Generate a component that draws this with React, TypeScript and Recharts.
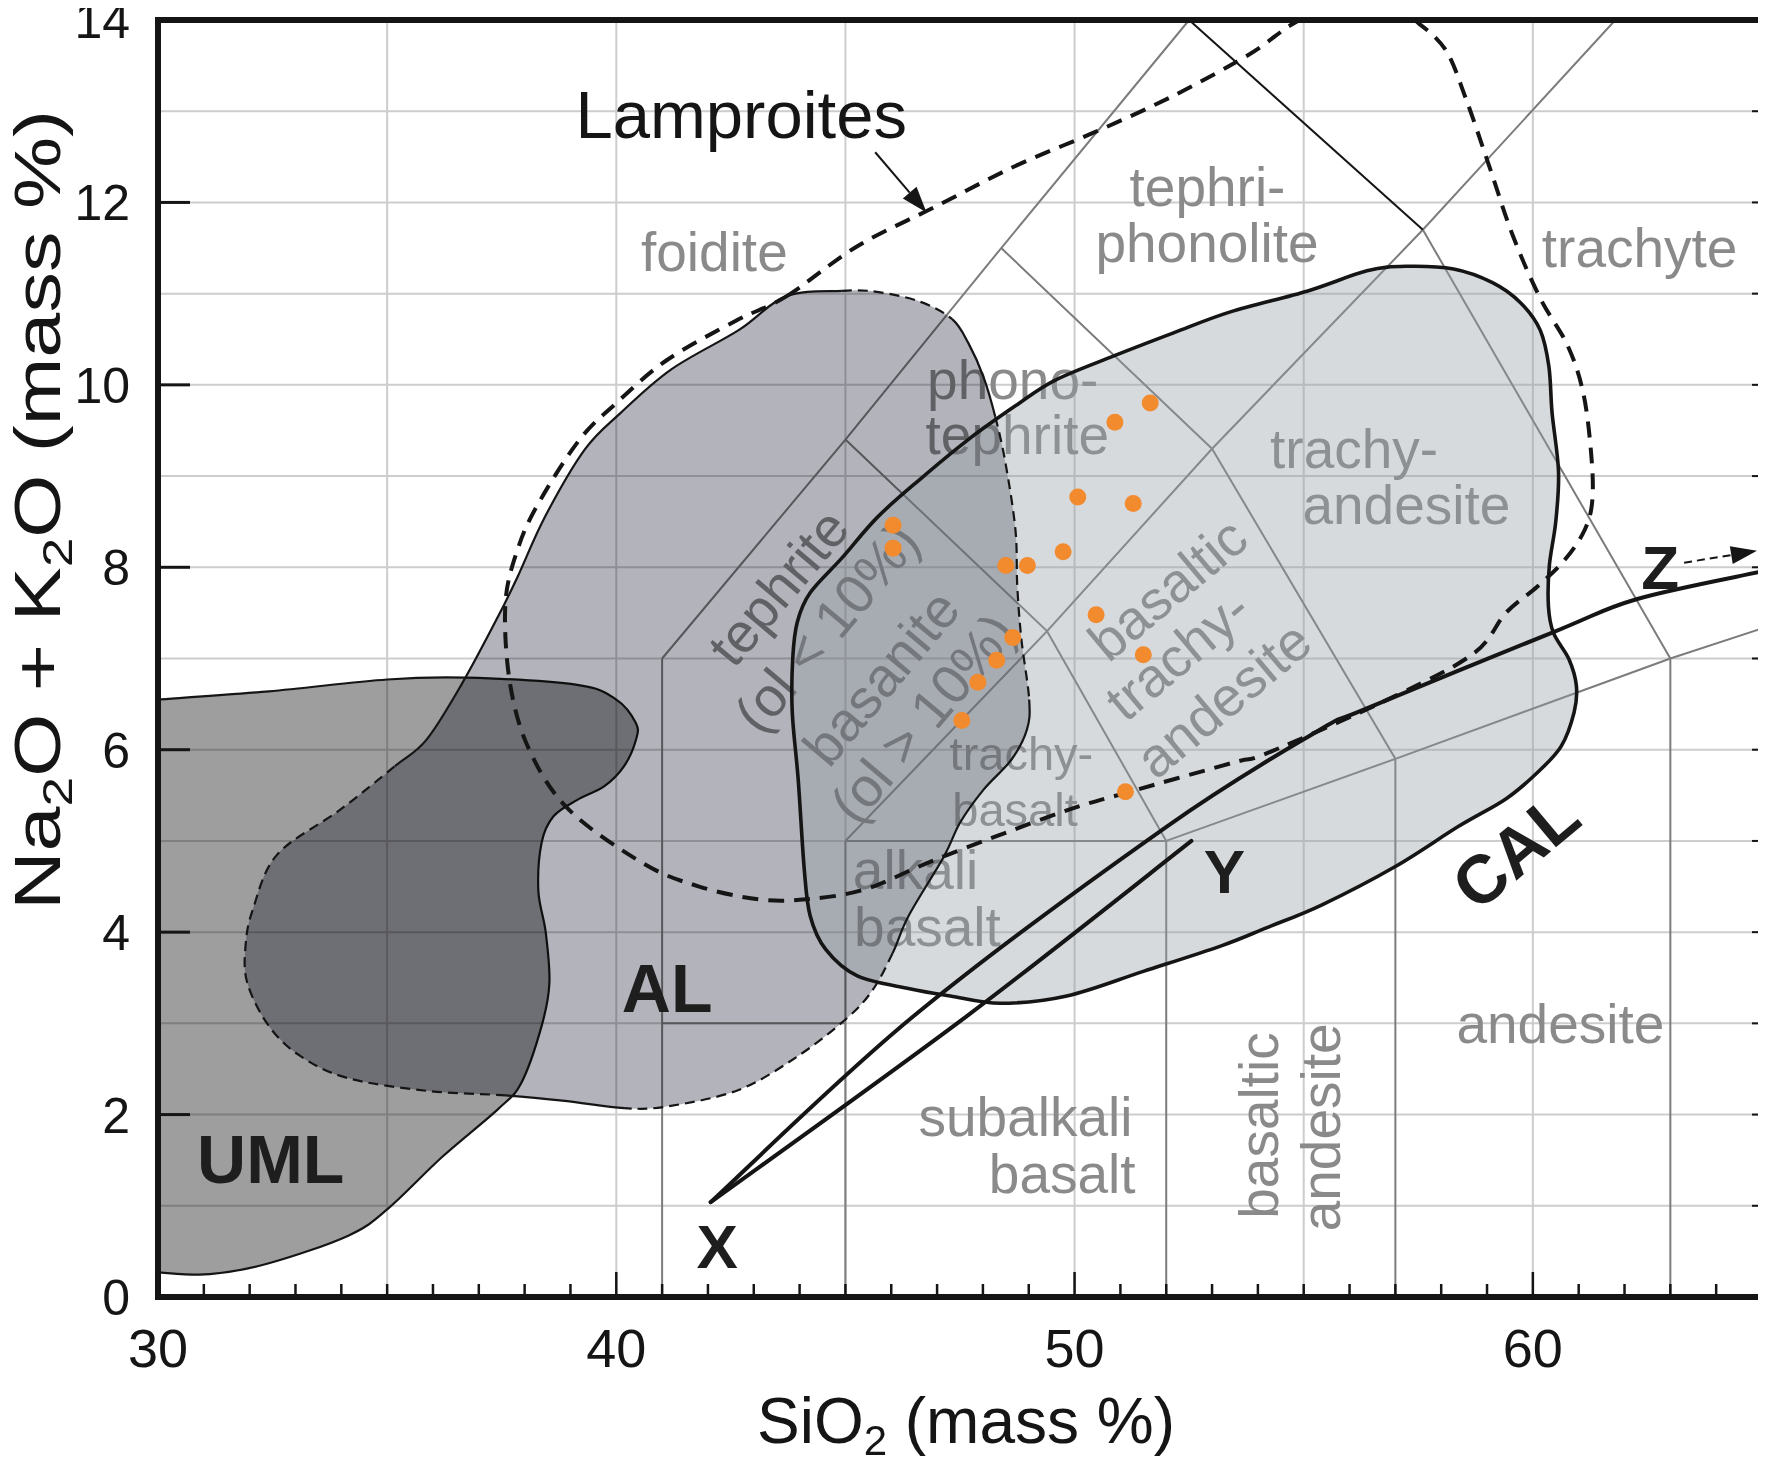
import React from "react";
import { ScatterChart, Scatter, XAxis, YAxis } from "recharts";

type XY = [number, number];
type Pt = { x: number; y: number };

// chart box (the page adds an 8px body margin)
const W = 1758;
const H = 1453;
const PLOT_W = 1604;
const PLOT_H = 1277;
const Y_AXIS_W = W - PLOT_W - 4;
const X_AXIS_H = H - PLOT_H - 12;

const FONT = "'Liberation Sans', Arial, Helvetica, sans-serif";
const INK = "#151515";
const FIELD_GREY = "#8a8a8a";
const GRID = "#cdcdcd";
const TAS_GREY = "#7c7c7c";
const UML_FILL = "#9e9e9e";
const AL_FILL = "#b2b3bb";
const CAL_FILL = "rgb(150,157,163)";
const CAL_ALPHA = 0.38;
const DOT = "#f28a2e";
const MULT: React.CSSProperties = { mixBlendMode: "multiply" };

// ---- axes ----
const X_TICKS = Array.from({ length: 36 }, (_, i) => 30 + i);
const Y_TICKS = Array.from({ length: 15 }, (_, i) => i);
const GRID_Y = [1, 2, 3, 4, 5, 6, 7, 8, 9, 10, 11, 12, 13];
const GRID_X = [35, 40, 45, 50, 55, 60];

// ---- TAS field boundaries (SiO2, Na2O+K2O) ----
const TAS_LINES: XY[][] = [
  [[41, 0], [41, 7], [45, 9.4], [48.4, 11.5], [52.5, 14]],
  [[41, 3], [45, 3]],
  [[45, 0], [45, 5], [49.4, 7.3], [53, 9.3], [57.6, 11.7], [61.8, 14]],
  [[45, 5], [52, 5]],
  [[45, 9.4], [49.4, 7.3], [52, 5]],
  [[48.4, 11.5], [53, 9.3], [57, 5.9]],
  [[57.6, 11.7], [63, 7]],
  [[52, 0], [52, 5], [57, 5.9], [63, 7], [65, 7.33]],
  [[57, 0], [57, 5.9]],
  [[63, 0], [63, 7]],
];
const TAS_DARK: XY[][] = [[[52.5, 14], [57.6, 11.7]]];

// ---- fields ----
const UML: XY[] = [
  [30, 6.55], [32.42, 6.64], [35.0, 6.77], [36.73, 6.79], [39.15, 6.71], [40.0, 6.55],
  [40.43, 6.29], [40.43, 6.11], [40.17, 5.82], [39.74, 5.6], [39.15, 5.45], [38.63, 5.27],
  [38.37, 4.98], [38.3, 4.45], [38.46, 4.0], [38.54, 3.44], [38.37, 2.97], [37.93, 2.35],
  [37.42, 2.06], [36.21, 1.54], [35.0, 0.96], [34.14, 0.67], [32.42, 0.37], [31.13, 0.25],
  [30, 0.27],
];

const AL: XY[] = [
  [43.7, 10.97], [44.92, 11.03], [45.69, 11.02], [46.64, 10.91], [47.33, 10.72], [47.68, 10.46],
  [48.01, 10.09], [48.27, 9.65], [48.49, 9.15], [48.71, 8.41], [48.75, 7.79], [48.84, 7.21],
  [49.01, 6.55], [48.96, 6.22], [48.62, 5.89], [48.01, 5.56], [47.5, 5.2], [47.15, 4.83],
  [46.38, 4.18], [46.03, 3.77], [45.6, 3.37], [45.04, 3.06], [43.96, 2.64], [42.67, 2.27],
  [41.12, 2.09], [40.17, 2.07], [38.88, 2.15], [37.59, 2.21], [35.87, 2.26], [34.14, 2.4],
  [33.11, 2.64], [32.42, 2.97], [31.95, 3.44], [31.91, 3.85], [32.07, 4.25], [32.6, 4.85],
  [33.97, 5.34], [35.17, 5.82], [35.86, 6.11], [36.64, 6.73], [37.42, 7.46], [37.85, 7.9],
  [38.45, 8.56], [39.31, 9.29], [40.09, 9.69], [41.2, 10.17], [42.67, 10.6],
];
// outline segments of AL drawn dashed: [from, to) by segment index
const AL_DASHED: XY[] = [[1, 4], [7, 12], [19, 25], [27, 37]];

const CAL: XY[] = [
  [44.1, 4.7], [43.97, 5.67], [43.84, 6.41], [43.85, 7.0], [43.95, 7.4], [44.23, 7.72],
  [44.92, 8.1], [45.7, 8.55], [46.64, 8.97], [47.68, 9.4], [48.71, 9.77], [49.57, 10.05],
  [50.87, 10.32], [52.16, 10.57], [53.4, 10.8], [55.09, 11.03], [56.38, 11.25], [57.24, 11.3],
  [58.27, 11.27], [59.12, 11.12], [59.73, 10.9], [60.16, 10.6], [60.35, 10.2], [60.42, 9.69],
  [60.56, 9.05], [60.5, 8.5], [60.36, 8.02], [60.34, 7.57], [60.45, 7.28], [60.79, 6.99],
  [60.95, 6.7], [60.9, 6.41], [60.62, 6.04], [60.1, 5.75], [59.41, 5.46], [58.38, 5.16],
  [57.0, 4.72], [55.4, 4.3], [54.2, 4.05], [53.2, 3.85], [51.5, 3.57], [49.83, 3.3],
  [48.38, 3.22], [47.29, 3.3], [46.4, 3.38], [45.26, 3.52], [44.57, 3.81], [44.23, 4.18],
];

const LAMPROITES: XY[] = [
  [43.71, 10.97], [45.26, 11.52], [46.99, 11.96], [48.71, 12.4], [50.44, 12.77], [52.16, 13.17],
  [53.8, 13.62], [54.74, 13.95], [55.2, 14.0], [57.24, 14.0], [57.49, 13.97], [58.1, 13.67],
  [58.53, 13.15], [59.04, 12.41], [59.56, 11.64], [60.16, 10.95], [60.76, 10.43], [61.1, 9.91],
  [61.27, 9.26], [61.3, 8.75], [61.14, 8.42], [60.71, 8.09], [60.1, 7.79], [59.41, 7.5],
  [58.72, 7.06], [57.0, 6.59], [54.24, 5.97], [53.47, 5.86], [51.14, 5.53], [49.69, 5.31],
  [46.99, 4.8], [45.43, 4.47], [44.14, 4.36], [43.1, 4.36], [41.81, 4.5], [40.6, 4.75],
  [38.97, 5.34], [38.1, 6.0], [37.68, 6.73], [37.58, 7.6], [37.85, 8.2], [38.3, 8.7],
  [39.2, 9.4], [40.0, 9.8], [41.1, 10.27], [42.6, 10.7],
];

const LINE_XZ: XY[] = [[42.06, 1.04], [46.49, 3.08], [52.02, 5.16], [55.29, 6.2], [56.31, 6.44], [60.45, 7.29], [62.26, 7.65], [64.96, 7.95]];
const LINE_XY: XY[] = [[42.06, 1.04], [47.65, 3.08], [52.55, 5.0]];

const SAMPLES: XY[] = [
  [51.65, 9.8], [50.88, 9.59], [50.07, 8.77], [51.28, 8.7], [46.04, 8.46], [46.04, 8.21],
  [49.75, 8.17], [48.5, 8.02], [48.97, 8.02], [50.47, 7.48], [51.5, 7.04], [48.65, 7.23],
  [48.3, 6.98], [47.89, 6.74], [47.54, 6.32], [51.11, 5.54],
];

const LAMP_ARROW: XY[] = [[45.65, 12.55], [46.77, 11.89]];
const Z_ARROW: XY[] = [[63.3, 8.05], [64.89, 8.18]];
const FRAME: XY[] = [[30, 0], [30, 14], [65, 14], [65, 0]];

// ---- labels (x = centre, y = baseline unless rotated) ----
const FIELD_LABELS = [
  { t: "foidite", x: 42.14, y: 11.25 },
  { t: "tephri-", x: 52.9, y: 11.96 },
  { t: "phonolite", x: 52.89, y: 11.35 },
  { t: "trachyte", x: 62.33, y: 11.29 },
  { t: "phono-", x: 48.65, y: 9.84 },
  { t: "tephrite", x: 48.75, y: 9.24 },
  { t: "trachy-", x: 56.1, y: 9.09 },
  { t: "andesite", x: 57.24, y: 8.48 },
  { t: "alkali", x: 46.53, y: 4.47 },
  { t: "basalt", x: 46.79, y: 3.85 },
  { t: "subalkali", x: 48.93, y: 1.76 },
  { t: "basalt", x: 49.73, y: 1.14 },
  { t: "andesite", x: 60.6, y: 2.79 },
];
const TB_LABELS = [
  { t: "trachy-", x: 48.84, y: 5.78 },
  { t: "basalt", x: 48.7, y: 5.16 },
];
const OL_LABELS = [
  { t: "tephrite", x: 43.54, y: 7.78 },
  { t: "(ol < 10%)", x: 44.59, y: 7.34 },
  { t: "basanite", x: 45.78, y: 6.79 },
  { t: "(ol > 10%)", x: 46.69, y: 6.35 },
];
const BTA_LABELS = [
  { t: "basaltic", x: 52.03, y: 7.76 },
  { t: "trachy-", x: 52.25, y: 7.04 },
  { t: "andesite", x: 53.25, y: 6.55 },
];
const BA_LABELS = [
  { t: "basaltic", x: 54.03, y: 1.88 },
  { t: "andesite", x: 55.38, y: 1.86 },
];
const GROUP_TAGS = [
  { t: "UML", x: 32.46, y: 1.25 },
  { t: "AL", x: 41.11, y: 3.12 },
];
const POINT_TAGS = [
  { t: "X", x: 42.2, y: 0.32 },
  { t: "Y", x: 53.27, y: 4.43 },
  { t: "Z", x: 62.78, y: 7.76 },
];
const CAL_TAG = [{ t: "CAL", x: 59.62, y: 4.9 }];
const LAMP_TAG = [{ t: "Lamproites", x: 39.11, y: 12.71 }];

// ---- helpers ----
const toPts = (a: XY[]) => a.map(([x, y]) => ({ x, y }));
const toPairs = (lines: XY[][]) =>
  toPts(lines.flatMap((l) => l.slice(1).flatMap((b, i) => [l[i], b] as XY[])));
const GRID_SEGS: XY[][] = [
  ...GRID_Y.map((y) => [[30, y], [65, y]] as XY[]),
  ...GRID_X.map((x) => [[x, 0], [x, 14]] as XY[]),
];

type Seg = { a: Pt; c1: Pt; c2: Pt; b: Pt };
function crSegs(p: Pt[], closed: boolean): Seg[] {
  const n = p.length;
  const g = (i: number) => (closed ? p[(i + n) % n] : p[Math.max(0, Math.min(n - 1, i))]);
  const out: Seg[] = [];
  const count = closed ? n : n - 1;
  for (let i = 0; i < count; i++) {
    const p0 = g(i - 1), p1 = g(i), p2 = g(i + 1), p3 = g(i + 2);
    out.push({
      a: p1,
      c1: { x: p1.x + (p2.x - p0.x) / 6, y: p1.y + (p2.y - p0.y) / 6 },
      c2: { x: p2.x - (p3.x - p1.x) / 6, y: p2.y - (p3.y - p1.y) / 6 },
      b: p2,
    });
  }
  return out;
}
const cTo = (s: Seg) => `C${s.c1.x},${s.c1.y} ${s.c2.x},${s.c2.y} ${s.b.x},${s.b.y}`;
const smooth = (p: Pt[], closed: boolean) =>
  `M${p[0].x},${p[0].y}` + crSegs(p, closed).map(cTo).join("") + (closed ? "Z" : "");

const NoDot = () => <g />;

const pairLines = (stroke: string, width: number) => (lp: any) => {
  const p: Pt[] = lp.points;
  let d = "";
  for (let i = 0; i + 1 < p.length; i += 2) d += `M${p[i].x},${p[i].y}L${p[i + 1].x},${p[i + 1].y}`;
  return <path d={d} fill="none" stroke={stroke} strokeWidth={width} />;
};

const umlLine = (lp: any) => {
  const d = smooth(lp.points, false);
  return (
    <g>
      <path d={d + "Z"} fill={UML_FILL} style={MULT} />
      <path d={d} fill="none" stroke={INK} strokeWidth={2.2} />
    </g>
  );
};

const alFill = (lp: any) => <path d={smooth(lp.points, true)} fill={AL_FILL} style={MULT} />;

const alOutline = (lp: any) => {
  const p: Pt[] = lp.points;
  const runs: { dashed: boolean; d: string }[] = [];
  crSegs(p, true).forEach((s, i) => {
    const dashed = AL_DASHED.some(([a, b]) => i >= a && i < b);
    const last = runs[runs.length - 1];
    if (last && last.dashed === dashed) last.d += cTo(s);
    else runs.push({ dashed, d: `M${s.a.x},${s.a.y}` + cTo(s) });
  });
  return (
    <g>
      {runs.map((r, i) => (
        <path key={i} d={r.d} fill="none" stroke={INK} strokeWidth={2.2} strokeDasharray={r.dashed ? "10 6" : undefined} />
      ))}
    </g>
  );
};

const calFill = (lp: any) => <path d={smooth(lp.points, true)} fill={CAL_FILL} fillOpacity={CAL_ALPHA} />;
const calOutline = (lp: any) => (
  <path d={smooth(lp.points, true)} fill="none" stroke={INK} strokeWidth={3.6} />
);

const lampLine = (lp: any) => (
  <path d={smooth(lp.points, true)} fill="none" stroke={INK} strokeWidth={4} strokeDasharray="16 10" />
);

const curveLine = (width: number) => (lp: any) => (
  <path d={smooth(lp.points, false)} fill="none" stroke={INK} strokeWidth={width} strokeLinecap="round" />
);

const frameLine = (lp: any) => {
  const p: Pt[] = lp.points;
  return <path d={`M${p.map((q) => `${q.x},${q.y}`).join("L")}Z`} fill="none" stroke={INK} strokeWidth={6} />;
};

const arrowLine = (dash?: string) => (lp: any) => {
  const [a, b] = lp.points as Pt[];
  const dx = b.x - a.x, dy = b.y - a.y;
  const len = Math.hypot(dx, dy);
  const ux = dx / len, uy = dy / len;
  const hl = 26, hw = 9;
  const bx = b.x - ux * hl, by = b.y - uy * hl;
  return (
    <g>
      <line x1={a.x} y1={a.y} x2={bx} y2={by} stroke={INK} strokeWidth={2} strokeDasharray={dash} />
      <path d={`M${b.x},${b.y}L${bx - uy * hw},${by + ux * hw}L${bx + uy * hw},${by - ux * hw}Z`} fill={INK} />
    </g>
  );
};

const dotShape = (p: any) => <circle cx={p.cx} cy={p.cy} r={8.5} fill={DOT} />;

const textShape =
  (size: number, color: string, weight: number, angle = 0, anchor: "start" | "middle" = "middle") =>
  (p: any) => {
    const d = p.payload ?? p;
    const central = angle !== 0;
    return (
      <text
        x={p.cx}
        y={p.cy}
        textAnchor={anchor}
        dominantBaseline={central ? "central" : "alphabetic"}
        transform={central ? `rotate(${angle} ${p.cx} ${p.cy})` : undefined}
        fontSize={size}
        fontWeight={weight}
        fill={color}
        fontFamily={FONT}
      >
        {d.t}
      </text>
    );
  };

// ---- axis ticks and titles ----
const XTick = (props: any) => {
  const { x, y, payload } = props;
  const v = payload.value;
  const major = v % 10 === 0;
  return (
    <g>
      <line x1={x} x2={x} y1={y} y2={y - (major ? 25 : 13)} stroke={INK} strokeWidth={2.5} />
      {major && (
        <text x={x} y={y + 70} textAnchor="middle" fontSize={54} fontFamily={FONT} fill={INK}>
          {v}
        </text>
      )}
    </g>
  );
};

const YTick = (props: any) => {
  const { x, y, payload } = props;
  const v = payload.value;
  const inner = v > 0 && v < 14;
  return (
    <g>
      {inner && v % 2 === 0 && <line x1={x} x2={x + 32} y1={y} y2={y} stroke={INK} strokeWidth={3} />}
      {inner && <line x1={x + PLOT_W - 10} x2={x + PLOT_W} y1={y} y2={y} stroke={INK} strokeWidth={2} />}
      {v % 2 === 0 && (
        <text x={x - 28} y={y} dy="0.36em" textAnchor="end" fontSize={50} fontFamily={FONT} fill={INK}>
          {v}
        </text>
      )}
    </g>
  );
};

const XTitle = (props: any) => {
  const vb = props.viewBox ?? { x: Y_AXIS_W, y: 12 + PLOT_H, width: PLOT_W, height: X_AXIS_H };
  return (
    <text x={vb.x + vb.width / 2 + 6} y={vb.y + 146} textAnchor="middle" fontSize={64} fontFamily={FONT} fill={INK}>
      SiO
      <tspan fontSize={42} dy={12}>2</tspan>
      <tspan dy={-12}> (mass %)</tspan>
    </text>
  );
};

const YTitle = (props: any) => {
  const vb = props.viewBox ?? { x: 0, y: 12, width: Y_AXIS_W, height: PLOT_H };
  const cx = vb.x + 52;
  const cy = vb.y + 490;
  return (
    <text
      transform={`translate(${cx},${cy}) rotate(-90)`}
      textAnchor="middle"
      fontSize={64}
      fontFamily={FONT}
      fill={INK}
      textLength={800}
      lengthAdjust="spacingAndGlyphs"
    >
      Na<tspan fontSize={42} dy={12}>2</tspan>
      <tspan dy={-12}>O + K</tspan>
      <tspan fontSize={42} dy={12}>2</tspan>
      <tspan dy={-12}>O (mass %)</tspan>
    </text>
  );
};

export default function App() {
  return (
    <div style={{ width: W, height: H, background: "#fff" }}>
      <ScatterChart width={W} height={H} margin={{ top: 12, right: 4, bottom: 0, left: 0 }}>
        <XAxis
          type="number"
          dataKey="x"
          domain={[30, 65]}
          ticks={X_TICKS}
          interval={0}
          axisLine={false}
          tickLine={false}
          tickSize={0}
          tickMargin={0}
          tick={<XTick />}
          height={X_AXIS_H}
          label={<XTitle />}
        />
        <YAxis
          type="number"
          dataKey="y"
          domain={[0, 14]}
          ticks={Y_TICKS}
          interval={0}
          axisLine={false}
          tickLine={false}
          tickSize={0}
          tickMargin={0}
          tick={<YTick />}
          width={Y_AXIS_W}
          label={<YTitle />}
        />

        <Scatter name="grid" data={toPairs(GRID_SEGS)} shape={NoDot} line={pairLines(GRID, 2)} isAnimationActive={false} />
        <Scatter name="tas" data={toPairs(TAS_LINES)} shape={NoDot} line={pairLines(TAS_GREY, 2)} isAnimationActive={false} />
        <Scatter name="tas-dark" data={toPairs(TAS_DARK)} shape={NoDot} line={pairLines(INK, 2)} isAnimationActive={false} />

        <Scatter name="field-labels" data={FIELD_LABELS} shape={textShape(55, FIELD_GREY, 400)} isAnimationActive={false} />
        <Scatter name="tb-labels" data={TB_LABELS} shape={textShape(47, FIELD_GREY, 400)} isAnimationActive={false} />
        <Scatter name="ol-labels" data={OL_LABELS} shape={textShape(55, FIELD_GREY, 400, -50)} isAnimationActive={false} />
        <Scatter name="bta-labels" data={BTA_LABELS} shape={textShape(55, FIELD_GREY, 400, -40)} isAnimationActive={false} />
        <Scatter name="ba-labels" data={BA_LABELS} shape={textShape(55, FIELD_GREY, 400, -90)} isAnimationActive={false} />

        <Scatter name="UML" data={toPts(UML)} shape={NoDot} line={umlLine} isAnimationActive={false} />
        <Scatter name="AL" data={toPts(AL)} shape={NoDot} line={alFill} isAnimationActive={false} />
        <Scatter name="CAL" data={toPts(CAL)} shape={NoDot} line={calFill} isAnimationActive={false} />
        <Scatter name="AL outline" data={toPts(AL)} shape={NoDot} line={alOutline} isAnimationActive={false} />
        <Scatter name="CAL outline" data={toPts(CAL)} shape={NoDot} line={calOutline} isAnimationActive={false} />
        <Scatter name="Lamproites" data={toPts(LAMPROITES)} shape={NoDot} line={lampLine} isAnimationActive={false} />
        <Scatter name="X-Z" data={toPts(LINE_XZ)} shape={NoDot} line={curveLine(4)} isAnimationActive={false} />
        <Scatter name="X-Y" data={toPts(LINE_XY)} shape={NoDot} line={curveLine(4)} isAnimationActive={false} />

        <Scatter name="samples" data={toPts(SAMPLES)} shape={dotShape} isAnimationActive={false} />

        <Scatter name="group-tags" data={GROUP_TAGS} shape={textShape(68, "#1e1e1e", 700)} isAnimationActive={false} />
        <Scatter name="point-tags" data={POINT_TAGS} shape={textShape(62, "#1e1e1e", 700)} isAnimationActive={false} />
        <Scatter name="cal-tag" data={CAL_TAG} shape={textShape(68, "#1e1e1e", 700, -40)} isAnimationActive={false} />
        <Scatter name="lamp-tag" data={LAMP_TAG} shape={textShape(67, INK, 400, 0, "start")} isAnimationActive={false} />
        <Scatter name="lamp-arrow" data={toPts(LAMP_ARROW)} shape={NoDot} line={arrowLine()} isAnimationActive={false} />
        <Scatter name="z-arrow" data={toPts(Z_ARROW)} shape={NoDot} line={arrowLine("8 5")} isAnimationActive={false} />

        <Scatter name="frame" data={toPts(FRAME)} shape={NoDot} line={frameLine} isAnimationActive={false} />
      </ScatterChart>
    </div>
  );
}
